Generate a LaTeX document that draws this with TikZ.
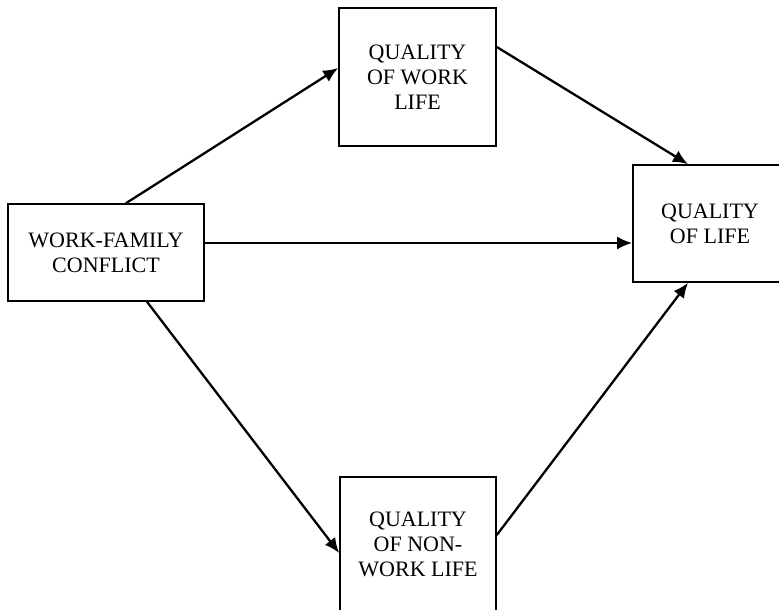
\documentclass[tikz,border=0pt]{standalone}
\usepackage{fontspec}
\setmainfont{Liberation Serif}
\usetikzlibrary{arrows.meta}
\tikzstyle{factor}=[draw, line width=1.6pt, align=center, inner sep=0pt, font=\fontsize{22}{25}\selectfont]
\tikzstyle{edge}=[draw, line width=2.3pt, -{Latex[length=15pt, width=13pt]}]

\begin{document}
\begin{tikzpicture}[x=1pt, y=-1pt]
  \useasboundingbox (0,0) rectangle (779,610);

  % First we draw the boxes
  \node[factor, minimum width=196pt, minimum height=97pt] (wfc) at (106,252.5) {WORK-FAMILY\\CONFLICT};
  \node[factor, minimum width=157pt, minimum height=138pt] (qwl) at (417.5,77) {QUALITY\\OF WORK\\LIFE};
  \node[factor, minimum width=154pt, minimum height=117pt] (ql) at (710,223.5) {QUALITY\\OF LIFE};
  \node[factor, minimum width=156pt, minimum height=134pt] (qnwl) at (418,544) {QUALITY\\OF NON-\\WORK LIFE};

  % Connect boxes with arrows
  \path[edge] ([xshift=20pt]wfc.north) -- ([yshift=9pt]qwl.west);
  \path[edge] ([yshift=30pt]qwl.east) -- ([xshift=-22pt]ql.north);
  \path[edge] ([yshift=9.5pt]wfc.east) -- ([yshift=-19.5pt]ql.west);
  \path[edge] ([xshift=41pt]wfc.south) -- ([yshift=-9pt]qnwl.west);
  \path[edge] ([yshift=9pt]qnwl.east) -- ([xshift=-22pt]ql.south);
\end{tikzpicture}
\end{document}
